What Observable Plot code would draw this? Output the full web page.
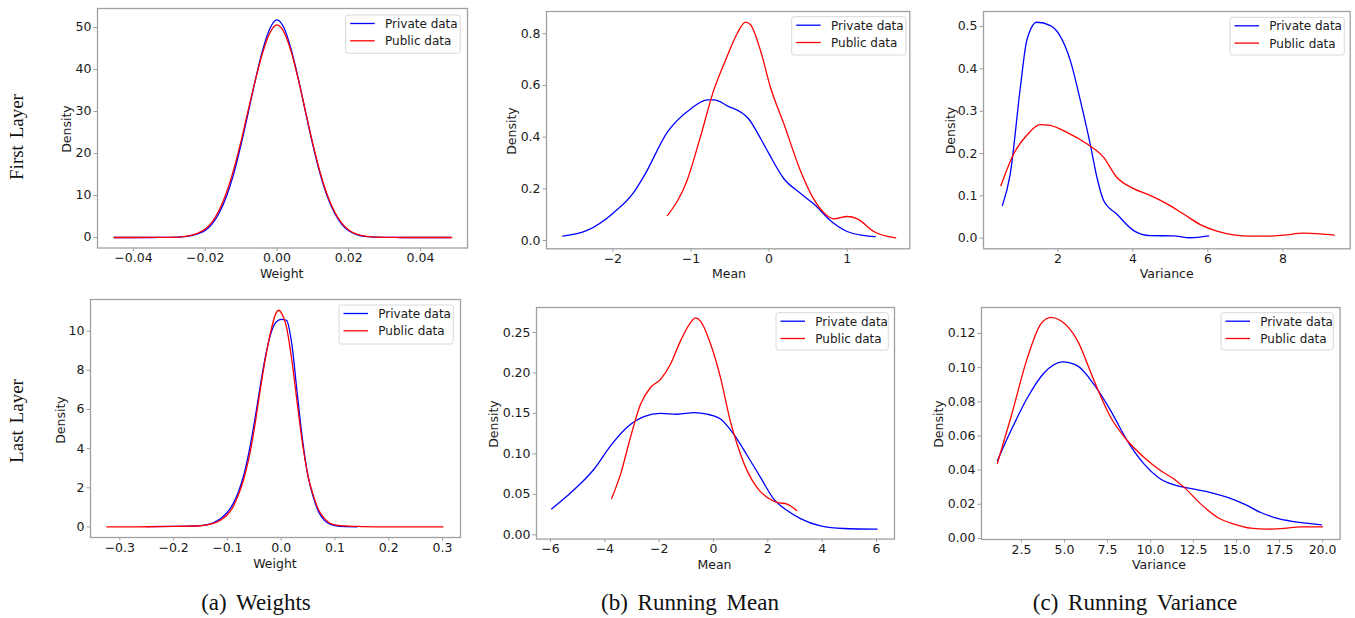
<!DOCTYPE html>
<html>
<head>
<meta charset="utf-8">
<script src="https://cdn.jsdelivr.net/npm/d3@7"></script>
<script src="https://cdn.jsdelivr.net/npm/@observablehq/plot@0.6"></script>
<style>
  html, body { margin: 0; padding: 0; background: #fff; }
  #root { position: relative; width: 1355px; height: 618px; overflow: hidden; background: #fff; }
  .panel { position: absolute; }
  #overlay { position: absolute; left: 0; top: 0; pointer-events: none; }
</style>
</head>
<body>
<div id="root"></div>
<script>
// ---------------- data ----------------
const seriesNames = ["Private data", "Public data"];
const seriesColors = ["#0000ff", "#ff0000"];

// (a) Weights, first layer
const wFirstPrivate = [[-0.0454,0],[-0.035,0.005],[-0.03,0.03],[-0.025,0.28],[-0.022,0.9],[-0.02,1.7],[-0.018,3.3],[-0.016,6.0],[-0.014,10.0],[-0.012,15.4],[-0.01,22.2],[-0.008,29.8],[-0.006,37.6],[-0.004,44.6],[-0.002,49.7],[0,51.8],[0.002,49.8],[0.004,44.6],[0.006,37.6],[0.008,29.7],[0.01,22.0],[0.012,15.2],[0.014,9.8],[0.016,5.9],[0.018,3.2],[0.02,1.6],[0.022,0.75],[0.025,0.22],[0.03,0.03],[0.035,0.004],[0.04,0],[0.0484,0]];
const wFirstPublic = [[-0.0454,0],[-0.035,0.006],[-0.03,0.04],[-0.025,0.35],[-0.022,1.05],[-0.02,2.0],[-0.018,3.8],[-0.016,6.7],[-0.014,10.9],[-0.012,16.4],[-0.01,23.0],[-0.008,30.4],[-0.006,37.6],[-0.004,44.0],[-0.002,48.7],[0,50.6],[0.002,48.8],[0.004,44.1],[0.006,37.4],[0.008,29.8],[0.01,22.3],[0.012,15.6],[0.014,10.2],[0.016,6.2],[0.018,3.5],[0.02,1.8],[0.022,0.85],[0.025,0.27],[0.03,0.04],[0.035,0.005],[0.04,0],[0.0487,0]];

// (a) Weights, last layer
const wLastPrivate = [[-0.25,0.02],[-0.2,0.03],[-0.15,0.07],[-0.13,0.17],[-0.12,0.3],[-0.11,0.48],[-0.1,0.75],[-0.09,1.15],[-0.08,1.75],[-0.07,2.6],[-0.06,3.8],[-0.05,5.3],[-0.04,7.0],[-0.03,8.6],[-0.02,9.8],[-0.01,10.45],[0,10.6],[0.01,10.55],[0.02,9.3],[0.03,6.8],[0.04,4.4],[0.05,2.6],[0.06,1.5],[0.07,0.75],[0.08,0.35],[0.09,0.15],[0.1,0.07],[0.12,0.02],[0.141,0.01]];
const wLastPublic = [[-0.324,0],[-0.25,0.01],[-0.2,0.03],[-0.15,0.06],[-0.13,0.15],[-0.12,0.25],[-0.11,0.4],[-0.1,0.62],[-0.09,1.0],[-0.08,1.6],[-0.07,2.4],[-0.06,3.5],[-0.05,5.0],[-0.04,6.8],[-0.03,8.5],[-0.02,9.9],[-0.01,10.9],[-0.004,11.07],[0,10.95],[0.01,10.2],[0.02,8.5],[0.03,6.3],[0.04,4.2],[0.05,2.6],[0.06,1.6],[0.07,0.85],[0.08,0.45],[0.09,0.2],[0.1,0.1],[0.12,0.05],[0.15,0.02],[0.2,0],[0.301,0]];

// (b) Running mean, first layer
const mFirstPrivate = [[-2.64,0.017],[-2.33,0.039],[-2.0,0.105],[-1.73,0.187],[-1.6,0.25],[-1.3,0.42],[-1.0,0.51],[-0.79,0.544],[-0.7,0.544],[-0.54,0.522],[-0.26,0.47],[-0.1,0.39],[0,0.335],[0.19,0.239],[0.4,0.183],[0.57,0.142],[0.81,0.071],[1.0,0.035],[1.2,0.02],[1.36,0.015]];
const mFirstPublic = [[-1.30,0.097],[-1.05,0.232],[-0.88,0.40],[-0.71,0.58],[-0.54,0.71],[-0.41,0.80],[-0.30,0.845],[-0.24,0.836],[-0.11,0.735],[0.017,0.593],[0.19,0.451],[0.40,0.271],[0.57,0.161],[0.74,0.097],[0.83,0.084],[1.0,0.093],[1.13,0.084],[1.34,0.035],[1.62,0.010]];

// (b) Running mean, last layer
const mLastPrivate = [[-5.96,0.032],[-5.39,0.048],[-4.90,0.063],[-4.40,0.081],[-3.79,0.110],[-3.18,0.133],[-2.56,0.146],[-1.95,0.150],[-1.33,0.149],[-0.72,0.151],[-0.23,0.149],[0.26,0.143],[0.75,0.124],[1.24,0.098],[1.73,0.071],[2.22,0.044],[2.71,0.030],[3.20,0.020],[3.94,0.011],[4.80,0.0078],[6.02,0.007]];
const mLastPublic = [[-3.75,0.045],[-3.42,0.075],[-3.06,0.120],[-2.69,0.161],[-2.32,0.182],[-1.95,0.192],[-1.58,0.211],[-1.21,0.240],[-0.85,0.262],[-0.66,0.268],[-0.48,0.264],[-0.11,0.236],[0.26,0.194],[0.63,0.139],[0.87,0.112],[1.24,0.079],[1.61,0.058],[1.98,0.046],[2.34,0.040],[2.71,0.038],[3.06,0.030]];

// (c) Running variance, first layer
const vFirstPrivate = [[0.52,0.077],[0.73,0.152],[1.0,0.357],[1.17,0.467],[1.44,0.510],[1.80,0.502],[2.02,0.483],[2.33,0.42],[2.60,0.325],[2.86,0.223],[3.04,0.144],[3.22,0.089],[3.57,0.057],[4.02,0.018],[4.46,0.006],[5.08,0.0055],[5.53,0.001],[6.02,0.0055]];
const vFirstPublic = [[0.48,0.124],[0.82,0.199],[1.17,0.243],[1.53,0.268],[1.75,0.267],[2.24,0.25],[2.77,0.223],[3.22,0.191],[3.57,0.144],[4.02,0.117],[4.46,0.101],[4.91,0.081],[5.35,0.057],[5.80,0.032],[6.24,0.0165],[6.68,0.0079],[7.13,0.0047],[7.57,0.0047],[8.02,0.0071],[8.55,0.0118],[8.99,0.0102],[9.37,0.0071]];

// (c) Running variance, last layer
const vLastPrivate = [[1.10,0.0455],[1.88,0.063],[2.85,0.0825],[3.82,0.097],[4.88,0.1034],[5.76,0.101],[6.72,0.090],[7.69,0.0747],[8.66,0.057],[9.63,0.0435],[10.60,0.0347],[11.57,0.0308],[12.54,0.0289],[13.51,0.0269],[14.48,0.024],[15.45,0.0201],[16.41,0.0152],[17.38,0.0117],[18.35,0.0098],[19.94,0.008]];
const vLastPublic = [[1.10,0.044],[1.88,0.0708],[2.85,0.106],[3.62,0.1255],[4.21,0.1294],[4.79,0.1274],[5.76,0.1157],[6.72,0.0923],[7.69,0.0708],[8.66,0.0572],[9.63,0.0474],[10.60,0.0396],[11.38,0.0347],[11.96,0.0299],[12.93,0.0201],[13.90,0.0123],[14.86,0.0084],[15.83,0.006],[16.80,0.0055],[17.77,0.0059],[18.74,0.0068],[20.0,0.0068]];

// tick values
const wFirstXTicks = [-0.04, -0.02, 0, 0.02, 0.04];
const wFirstYTicks = [0, 10, 20, 30, 40, 50];
const wLastXTicks = [-0.3, -0.2, -0.1, 0, 0.1, 0.2, 0.3];
const wLastYTicks = [0, 2, 4, 6, 8, 10];
const mFirstXTicks = [-2, -1, 0, 1];
const mFirstYTicks = [0, 0.2, 0.4, 0.6, 0.8];
const mLastXTicks = [-6, -4, -2, 0, 2, 4, 6];
const mLastYTicks = [0, 0.05, 0.10, 0.15, 0.20, 0.25];
const vFirstXTicks = [2, 4, 6, 8];
const vFirstYTicks = [0, 0.1, 0.2, 0.3, 0.4, 0.5];
const vLastXTicks = [2.5, 5, 7.5, 10, 12.5, 15, 17.5, 20];
const vLastYTicks = [0, 0.02, 0.04, 0.06, 0.08, 0.10, 0.12];

const rowLabels = ["First Layer", "Last Layer"];
const captions = ["(a) Weights", "(b) Running Mean", "(c) Running Variance"];
const xLabels = ["Weight", "Mean", "Variance"];
const yLabel = "Density";

// ---------------- layout ----------------
const panels = [
  {box:[97,8,467,247.5], xd:[-0.05003,0.0531], yd:[-2.5,54.52], xt:wFirstXTicks, yt:wFirstYTicks, xf:".2f", yf:"d", s:[wFirstPrivate,wFirstPublic],
   xl:xLabels[0], xlp:[281.7,277.5], ylp:[70.8,129], leg:[345.7,15,114.5,38.3]},
  {box:[546,11,909.3,248.3], xd:[-2.849,1.801], yd:[-0.032,0.886], xt:mFirstXTicks, yt:mFirstYTicks, xf:"d", yf:".1f", s:[mFirstPrivate,mFirstPublic],
   xl:xLabels[1], xlp:[729,277.5], ylp:[516,131], leg:[791.7,16.7,114.3,38.3]},
  {box:[983.3,11,1350,248.3], xd:[0.016,9.795], yd:[-0.025,0.5354], xt:vFirstXTicks, yt:vFirstYTicks, xf:"d", yf:".1f", s:[vFirstPrivate,vFirstPublic],
   xl:xLabels[2], xlp:[1166.7,277.5], ylp:[954.5,130.5], leg:[1230,17.3,114.3,37.7]},
  {box:[90,299.3,460,537.3], xd:[-0.3545,0.3335], yd:[-0.54,11.62], xt:wLastXTicks, yt:wLastYTicks, xf:".1f", yf:"d", s:[wLastPrivate,wLastPublic],
   xl:xLabels[0], xlp:[275,568], ylp:[64.5,420], leg:[339,305,114.3,39]},
  {box:[536,306.7,894,538.3], xd:[-6.515,6.662], yd:[-0.0053,0.2809], xt:mLastXTicks, yt:mLastYTicks, xf:"d", yf:".2f", s:[mLastPrivate,mLastPublic],
   xl:xLabels[1], xlp:[714.5,568.5], ylp:[498,424], leg:[776,312.7,112.3,37.3]},
  {box:[980.7,306.7,1339.3,538.7], xd:[0.174,21.02], yd:[-0.0006,0.1352], xt:vLastXTicks, yt:vLastYTicks, xf:".1f", yf:".2f", s:[vLastPrivate,vLastPublic],
   xl:xLabels[2], xlp:[1159,568.5], ylp:[943,424], leg:[1221,312.7,112.3,37.3]}
];

const root = document.getElementById("root");
const mL = 60, mR = 8, mT = 8, mB = 28;

for (const p of panels) {
  const [x0, y0, x1, y1] = p.box;
  const w = (x1 - x0) + mL + mR, h = (y1 - y0) + mT + mB;
  const marks = [
    Plot.axisX({ticks: p.xt, tickFormat: d3.format(p.xf), tickSize: 3.5, tickPadding: 2, stroke: "#a0a0a0", fill: "#1a1a1a", fontSize: 12.5, label: null}),
    Plot.axisY({ticks: p.yt, tickFormat: d3.format(p.yf), tickSize: 3.5, tickPadding: 2.5, stroke: "#a0a0a0", fill: "#1a1a1a", fontSize: 12.5, label: null}),
  ];
  p.s.forEach((data, i) => {
    marks.push(Plot.line(data, {x: d => d[0], y: d => d[1], stroke: seriesColors[i], strokeWidth: 1.3, curve: "monotone-x"}));
  });
  marks.push(Plot.frame({stroke: "#a0a0a0", strokeWidth: 1.3}));
  const chart = Plot.plot({
    width: w, height: h,
    marginLeft: mL, marginRight: mR, marginTop: mT, marginBottom: mB,
    x: {domain: p.xd, nice: false},
    y: {domain: p.yd, nice: false},
    style: {fontFamily: "'DejaVu Sans', sans-serif", background: "transparent", overflow: "visible", maxWidth: "none"},
    marks
  });
  const div = document.createElement("div");
  div.className = "panel";
  div.style.left = (x0 - mL) + "px";
  div.style.top = (y0 - mT) + "px";
  div.style.width = w + "px";
  div.style.height = h + "px";
  div.appendChild(chart);
  root.appendChild(div);
}

// ---------------- overlay: labels, legends, captions ----------------
const svg = d3.select(root).append("svg").attr("id", "overlay").attr("width", 1355).attr("height", 618);
const sans = "'DejaVu Sans', sans-serif";
const serif = "'Liberation Serif', 'Times New Roman', serif";

for (const p of panels) {
  svg.append("text").attr("x", p.xlp[0]).attr("y", p.xlp[1]).attr("text-anchor", "middle")
    .attr("font-family", sans).attr("font-size", 12.5).attr("fill", "#1a1a1a").text(p.xl);
  svg.append("text").attr("transform", `translate(${p.ylp[0]},${p.ylp[1]}) rotate(-90)`).attr("text-anchor", "middle")
    .attr("font-family", sans).attr("font-size", 12.5).attr("fill", "#1a1a1a").text(yLabel);
  const [lx, ly, lw, lh] = p.leg;
  const g = svg.append("g");
  g.append("rect").attr("x", lx).attr("y", ly).attr("width", lw).attr("height", lh).attr("rx", 2.5)
    .attr("fill", "#fff").attr("fill-opacity", 0.85).attr("stroke", "#d8d8d8").attr("stroke-width", 1);
  seriesNames.forEach((name, i) => {
    const yy = ly + 8.5 + i * 17.3;
    g.append("line").attr("x1", lx + 4.5).attr("x2", lx + 29).attr("y1", yy).attr("y2", yy)
      .attr("stroke", seriesColors[i]).attr("stroke-width", 1.3);
    g.append("text").attr("x", lx + 39.3).attr("y", yy + 4.4).attr("font-family", sans).attr("font-size", 12)
      .attr("fill", "#1a1a1a").text(name);
  });
}

// row labels
[[17, 137], [17, 421]].forEach(([x, y], i) => {
  svg.append("text").attr("transform", `translate(${x + 6},${y}) rotate(-90)`).attr("text-anchor", "middle")
    .attr("font-family", serif).attr("font-size", 19).attr("word-spacing", 2).attr("fill", "#111").text(rowLabels[i]);
});

// captions
[256, 690, 1135].forEach((x, i) => {
  svg.append("text").attr("x", x).attr("y", 610).attr("text-anchor", "middle")
    .attr("font-family", serif).attr("font-size", 23).attr("word-spacing", 4).attr("fill", "#111").text(captions[i]);
});
</script>
</body>
</html>
